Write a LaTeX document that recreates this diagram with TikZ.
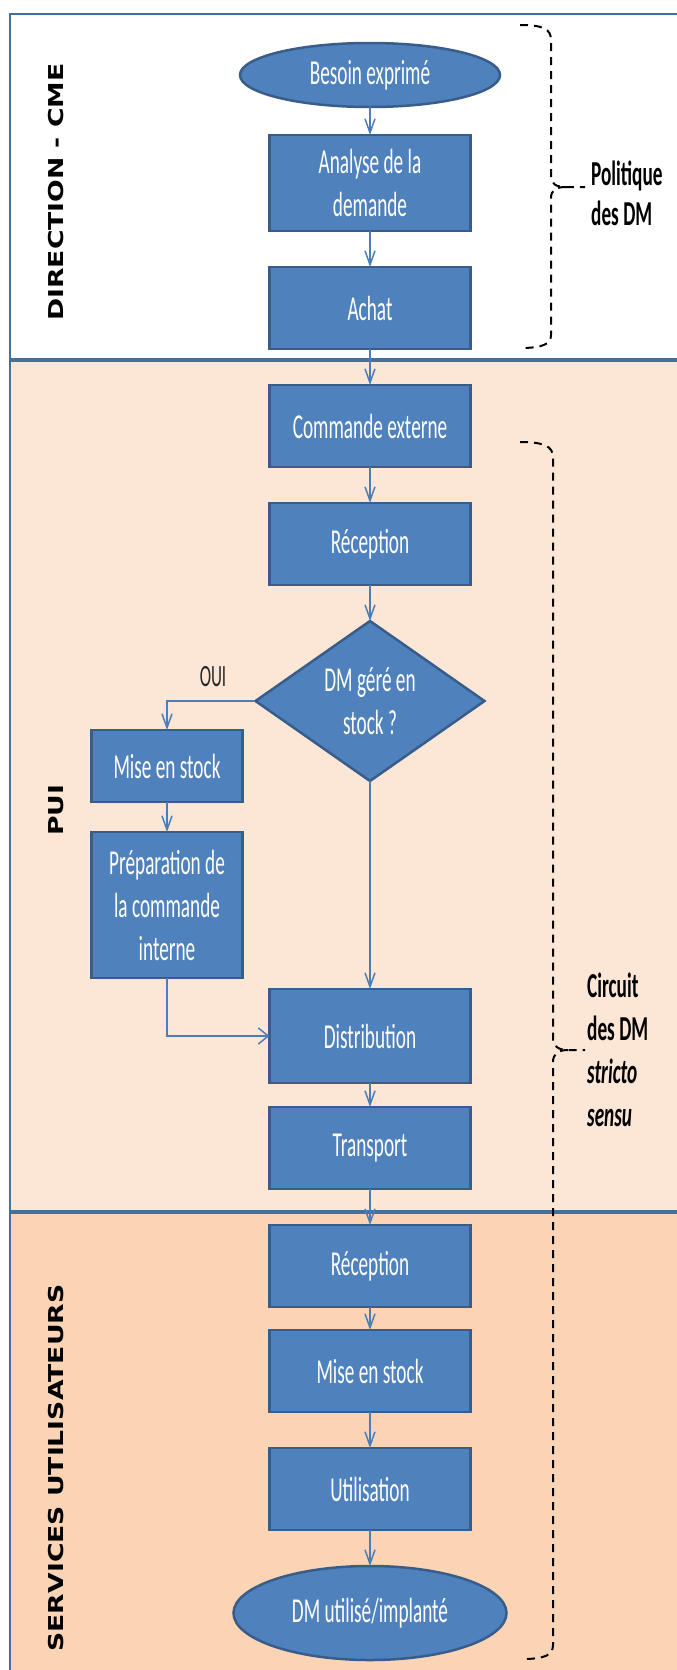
\documentclass[tikz,border=0pt]{standalone}
\usepackage{fontspec}
\usetikzlibrary{positioning,shapes.geometric,arrows.meta}
\newfontfamily\boxfont[FakeStretch=0.55]{Carlito}
\newfontfamily\lanefont[FakeStretch=1.3]{DejaVu Sans}
\definecolor{boxblue}{HTML}{4F81BD}
\definecolor{boxline}{HTML}{385D8A}
\definecolor{arrowblue}{HTML}{4A7EBB}
\definecolor{framecol}{HTML}{44709E}
\definecolor{puifill}{HTML}{FCE6D6}
\definecolor{sufill}{HTML}{FAD4B4}

\begin{document}
\begin{tikzpicture}[x=1pt, y=-1pt, node distance={36pt},
		main/.style = {draw=boxline, fill=boxblue, text=white, line width=2.5pt, inner sep=0pt, outer sep=0pt, align=center, font=\boxfont\fontsize{35}{43}\selectfont},
		box/.style = {main, rectangle, minimum width=201pt, minimum height=82pt},
		oval/.style = {main, ellipse},
		choice/.style = {main, diamond, minimum width=229pt, minimum height=160pt},
		flow/.style = {draw=arrowblue, line width=1.5pt, -{Straight Barb[length=14pt,width=10pt]}},
		brace/.style = {draw=black, line width=2pt, dash pattern=on 8pt off 6pt},
		note/.style = {anchor=west, align=left, inner sep=0pt, font=\boxfont\bfseries\fontsize{35}{43}\selectfont},
		lane/.style = {rotate=90, inner sep=0pt, font=\lanefont\bfseries\fontsize{20.5}{24}\selectfont}]
			\useasboundingbox (0,0) rectangle (677,1670);
			\fill[white] (0,0) rectangle (677,1670);
			\fill[puifill] (10,360) rectangle (677,1212);
			\fill[sufill] (10,1212) rectangle (677,1670);
			\draw[framecol, line width=2.5pt] (10,1670) -- (10,14) -- (677,14);
			\draw[framecol, line width=4pt] (10,360) -- (677,360);
			\draw[framecol, line width=4pt] (10,1212) -- (677,1212);
			\node[lane] (l1) at (56,192) {DIRECTION - CME};
			\node[lane] (l2) at (56,810) {PUI};
			\node[lane] (l3) at (56,1468) {SERVICES UTILISATEURS};
			\node[oval, minimum width=260pt, minimum height=64pt] (1) at (370,75) {Besoin exprimé};
			\node[box, minimum height=96pt] (2) [below=28pt of 1] {Analyse de la\\demande};
			\node[box] (3) [below=of 2] {Achat};
			\node[box] (4) [below=of 3] {Commande externe};
			\node[box] (5) [below=of 4] {Réception};
			\node[choice] (6) [below=of 5] {DM géré en\\stock ?};
			\node[box, minimum width=151pt, minimum height=72pt] (7) at (167,766) {Mise en stock};
			\node[box, minimum width=151pt, minimum height=146pt] (8) [below=30pt of 7] {Préparation de\\la commande\\interne};
			\node[box, minimum height=94pt] (9) at (370,1036) {Distribution};
			\node[box] (10) [below=24pt of 9] {Transport};
			\node[box] (11) [below=of 10] {Réception};
			\node[box] (12) [below=23pt of 11] {Mise en stock};
			\node[box] (13) [below=of 12] {Utilisation};
			\node[oval, minimum width=273pt, minimum height=94pt] (14) [below=of 13] {DM utilisé/implanté};
			\draw[flow] (1) -- (2);
			\draw[flow] (2) -- (3);
			\draw[flow] (3) -- (4);
			\draw[flow] (4) -- (5);
			\draw[flow] (5) -- (6);
			\draw[flow] (6) -| node[pos=0.24, above=14pt, inner sep=0pt, text=black!85, font=\boxfont\fontsize{31}{36}\selectfont] (oui) {OUI} (7);
			\draw[flow] (7) -- (8);
			\draw[flow, -{Straight Barb[length=10pt,width=16pt]}] (8) |- (9);
			\draw[flow] (6) -- (9);
			\draw[flow] (9) -- (10);
			\draw[flow] (10) -- (11);
			\draw[flow] (11) -- (12);
			\draw[flow] (12) -- (13);
			\draw[flow] (13) -- (14);
			\draw[brace] (520,25) .. controls (543,25) and (551,29) .. (551,40) -- (551,176) .. controls (551,184) and (556,187) .. (566,187) -- (585,187);
			\draw[brace] (566,187) .. controls (556,187) and (551,190) .. (551,198) -- (551,335) .. controls (551,344) and (543,348) .. (520,348);
			\draw[brace] (520,442) .. controls (543,442) and (553,446) .. (553,457) -- (553,1038) .. controls (553,1046) and (558,1050) .. (568,1050) -- (585,1050);
			\draw[brace] (568,1050) .. controls (558,1050) and (553,1054) .. (553,1062) -- (553,1645) .. controls (553,1655) and (545,1659) .. (522,1659);
			\node[note, font=\boxfont\bfseries\fontsize{35}{40}\selectfont] (15) at (591,193) {Politique\\des DM};
			\node[note] (16) at (587,1050) {Circuit\\des DM\\\textit{stricto}\\\textit{sensu}};
		\end{tikzpicture}
\end{document}
